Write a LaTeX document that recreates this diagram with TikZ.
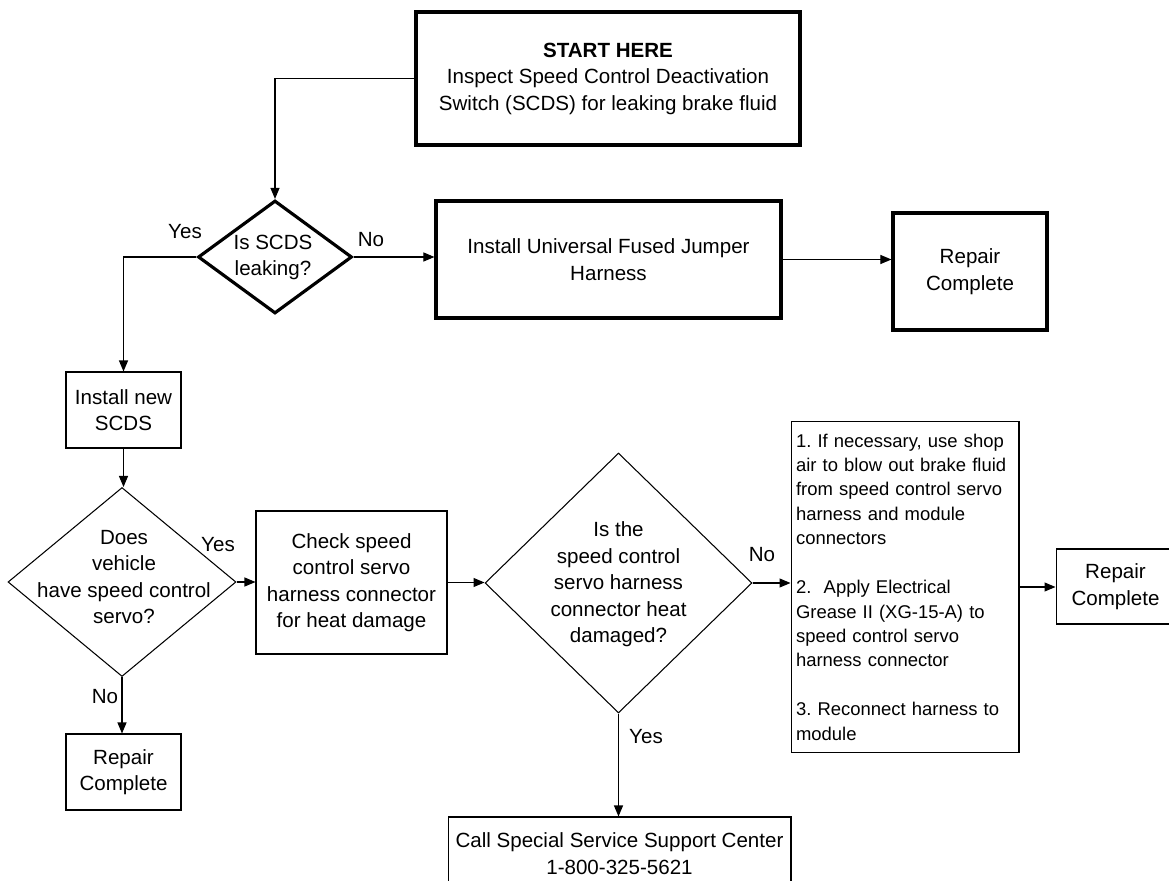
\documentclass[tikz,border=0pt]{standalone}
\usepackage{fontspec}
\setmainfont{Liberation Sans}
\frenchspacing
\usetikzlibrary{shapes.geometric,arrows.meta}
\begin{document}
\begin{tikzpicture}[x=0.02cm,y=-0.02cm,
        font={\fontsize{11.7}{15.1}\selectfont},
        thickbox/.style={rectangle,draw,line width=1.8pt,align=center,inner sep=0pt},
        thinbox/.style={rectangle,draw,line width=0.6pt,align=center,inner sep=0pt},
        thickdec/.style={diamond,draw,line width=1.8pt,inner sep=0pt},
        thindec/.style={diamond,draw,line width=0.6pt,inner sep=0pt},
        lbl/.style={inner sep=0pt,align=center},
        flow/.style={-{Triangle[length=0.22cm,width=0.18cm]},line width=0.6pt}]
        \useasboundingbox (0,0) rectangle (1169,881);
        \node[thickbox,minimum width=7.68cm,minimum height=2.66cm] (start) at (608,78.5) {\textbf{START HERE}\\Inspect Speed Control Deactivation\\Switch (SCDS) for leaking brake fluid};
        \node[thickdec,minimum width=3.08cm,minimum height=2.26cm] (leak) at (275,257) {};
        \node[lbl] (leakt) at (273,257.5) {Is SCDS\\leaking?};
        \node[thickbox,minimum width=6.9cm,minimum height=2.34cm] (jumper) at (608.5,259.5) {Install Universal Fused Jumper\\Harness};
        \node[thickbox,minimum width=3.08cm,minimum height=2.34cm] (rep1) at (970,271.5) {Repair\\Complete};
        \node[thinbox,minimum width=2.3cm,minimum height=1.52cm] (newscds) at (123.5,410) {Install new\\SCDS};
        \node[thindec,minimum width=4.56cm,minimum height=3.78cm] (servo) at (122,582) {};
        \node[lbl] (servot) at (124,577) {Does\\vehicle\\have speed control\\servo?};
        \node[thinbox,minimum width=3.82cm,minimum height=2.86cm] (check) at (351.5,582.5) {Check speed\\control servo\\harness connector\\for heat damage};
        \node[thindec,minimum width=5.34cm,minimum height=5.2cm] (heat) at (618.5,583) {};
        \node[lbl] (heatt) at (618.5,584.5) {Is the\\speed control\\servo harness\\connector heat\\damaged?};
        \node[thinbox,minimum width=4.56cm,minimum height=6.64cm,inner xsep=0.1cm,text width=4.36cm,align=left,font={\fontsize{10.5}{13.9}\selectfont}] (steps) at (905,587) {1. If necessary, use shop\\air to blow out brake fluid\\from speed control servo\\harness and module\\connectors\\[13.9pt]2.~ Apply Electrical\\Grease II (XG-15-A) to\\speed control servo\\harness connector\\[13.9pt]3. Reconnect harness to\\module};
        \node[thinbox,minimum width=2.38cm,minimum height=1.5cm] (rep2) at (1115.5,586.5) {Repair\\Complete};
        \node[thinbox,minimum width=2.3cm,minimum height=1.52cm] (rep3) at (123.5,772) {Repair\\Complete};
        \node[thinbox,minimum width=6.86cm,minimum height=1.46cm] (call) at (619.5,853.5) {Call Special Service Support Center\\1-800-325-5621};
        \node[lbl] (yes1) at (185,232) {Yes};
        \node[lbl] (no1) at (371,240) {No};
        \node[lbl] (yes2) at (218,545) {Yes};
        \node[lbl] (no2) at (105,697) {No};
        \node[lbl] (no3) at (762,555) {No};
        \node[lbl] (yes3) at (646,737) {Yes};
        \draw[flow] (start.west) -| (leak.north);
        \draw[flow] (leak.west) -| (newscds.north);
        \draw[flow] (leak.east) -- (leak.east -| jumper.west);
        \draw[flow] (jumper.east) -- (jumper.east -| rep1.west);
        \draw[flow] (newscds.south) -- (newscds.south |- servo.north);
        \draw[flow] (servo.east) -- (servo.east -| check.west);
        \draw[flow] (servo.south) -- (servo.south |- rep3.north);
        \draw[flow] (check.east) -- (check.east -| heat.west);
        \draw[flow] (heat.east) -- (heat.east -| steps.west);
        \draw[flow] (heat.south) -- (heat.south |- call.north);
        \draw[flow] (steps.east) -- (steps.east -| rep2.west);
\end{tikzpicture}
\end{document}
